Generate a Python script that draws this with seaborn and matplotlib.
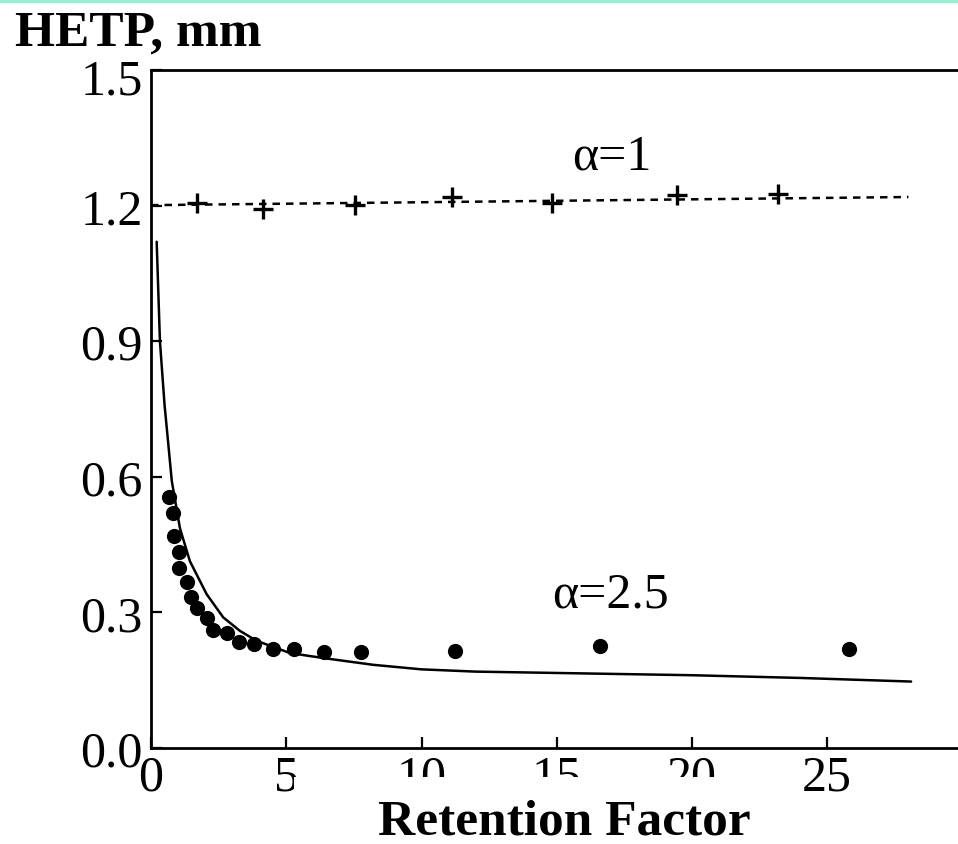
import matplotlib
matplotlib.use("Agg")
import matplotlib.pyplot as plt
from matplotlib.patches import Rectangle
from matplotlib.transforms import ScaledTranslation
import pandas as pd
import seaborn as sns

# Measured plate heights, alpha = 1 (crosses) and its fitted dashed trend
k_alpha1 = [1.69, 4.15, 7.54, 11.12, 14.81, 19.43, 23.19]
hetp_alpha1 = [1.205, 1.193, 1.201, 1.218, 1.205, 1.223, 1.225]
k_trend1 = [0.0, 28.0]
hetp_trend1 = [1.201, 1.219]

# Measured plate heights, alpha = 2.5 (filled circles)
k_alpha25 = [0.68, 0.82, 0.86, 1.04, 1.05, 1.34, 1.47, 1.71, 2.06, 2.28,
             2.82, 3.27, 3.82, 4.51, 5.29, 6.40, 7.77, 11.25, 16.61, 25.80]
hetp_alpha25 = [0.555, 0.520, 0.470, 0.434, 0.399, 0.368, 0.335, 0.309, 0.287, 0.261,
                0.255, 0.234, 0.231, 0.219, 0.220, 0.212, 0.212, 0.214, 0.226, 0.219]

# Model curve for alpha = 2.5 (solid line)
k_model25 = [0.21, 0.33, 0.50, 0.77, 1.07, 1.44, 2.06, 2.67, 3.29, 3.91,
             5.14, 6.37, 8.22, 10.0, 12.0, 15.0, 20.0, 24.0, 28.1]
hetp_model25 = [1.12, 0.90, 0.76, 0.59, 0.486, 0.413, 0.34, 0.289, 0.259, 0.237,
                0.21, 0.199, 0.184, 0.174, 0.169, 0.166, 0.161, 0.155, 0.147]

x_ticks = [0, 5, 10, 15, 20, 25]
y_ticks = [0.0, 0.3, 0.6, 0.9, 1.2, 1.5]
y_tick_labels = ["0.0", "0.3", "0.6", "0.9", "1.2", "1.5"]

sns.set_theme(style="white")
serif = ["Liberation Serif", "DejaVu Serif"]
plt.rcParams["font.family"] = serif
plt.rcParams["axes.linewidth"] = 2.0

fig = plt.figure(figsize=(9.58, 8.45), dpi=100)
fig.patch.set_facecolor("white")
ax = fig.add_axes([151 / 958, 1 - 749 / 845, (958 - 151) / 958, (749 - 71) / 845])
ax.set_facecolor("white")

df_trend1 = pd.DataFrame({"k": k_trend1, "hetp": hetp_trend1})
df_a1 = pd.DataFrame({"k": k_alpha1, "hetp": hetp_alpha1})
df_model = pd.DataFrame({"k": k_model25, "hetp": hetp_model25})
df_a25 = pd.DataFrame({"k": k_alpha25, "hetp": hetp_alpha25})

sns.lineplot(data=df_trend1, x="k", y="hetp", ax=ax, color="black",
             linewidth=1.8, linestyle=(0, (3.0, 2.4)), sort=False)
sns.lineplot(data=df_model, x="k", y="hetp", ax=ax, color="black",
             linewidth=1.8, sort=False)
sns.scatterplot(data=df_a1, x="k", y="hetp", ax=ax, marker="+", s=200,
                color="black", linewidth=2.4, zorder=4)
sns.scatterplot(data=df_a25, x="k", y="hetp", ax=ax, marker="o", s=120,
                color="black", edgecolor="black", linewidth=0, zorder=4)

ax.set_xlim(0, (958 - 151) / 27.05)
ax.set_ylim(0, 1.5)
ax.set_xticks(x_ticks)
ax.set_xticklabels([str(t) for t in x_ticks])
ax.set_yticks(y_ticks)
ax.set_yticklabels(y_tick_labels)
ax.set_xlabel("")
ax.set_ylabel("")

for side in ("left", "bottom", "top"):
    ax.spines[side].set_visible(True)
    ax.spines[side].set_color("black")
    ax.spines[side].set_linewidth(2.0)
ax.spines["right"].set_visible(False)

ax.tick_params(axis="x", which="major", direction="in", length=8, width=1.6,
               bottom=True, top=False, labelsize=36, pad=4, colors="black")
ax.tick_params(axis="y", which="major", direction="in", length=8, width=1.6,
               left=True, right=False, labelsize=36, pad=6, colors="black")
for lab in ax.get_xticklabels() + ax.get_yticklabels():
    lab.set_family(serif)

# The top y label sits a little below its tick, clear of the axis title
top_label = ax.yaxis.get_major_ticks()[-1].label1
top_label.set_transform(top_label.get_transform()
                        + ScaledTranslation(0, -0.06, fig.dpi_scale_trans))

ax.text(17.04, 1.281, "\u03b1=1", fontsize=36, family=serif, ha="center",
        va="baseline", color="black")
ax.text(16.97, 0.312, "\u03b1=2.5", fontsize=36, family=serif, ha="center",
        va="baseline", color="black")

# Header strip and titles
fig.patches.append(Rectangle((0, 1 - 4 / 845), 1, 4 / 845, transform=fig.transFigure,
                             facecolor="#9CEED0", edgecolor="none", zorder=1))
fig.text(15 / 958, 1 - 46 / 845, "HETP, mm", fontsize=37, fontweight="bold",
         family=serif, ha="left", va="baseline", color="black")
fig.patches.append(Rectangle((294 / 958, 0), (760 - 294) / 958, (845 - 778) / 845,
                             transform=fig.transFigure, facecolor="white",
                             edgecolor="none", zorder=2))
fig.text(564.5 / 958, 1 - 835 / 845, "Retention Factor", fontsize=37, fontweight="bold",
         family=serif, ha="center", va="baseline", color="black", zorder=3)

fig.savefig("out.png", dpi=100, facecolor="white")
